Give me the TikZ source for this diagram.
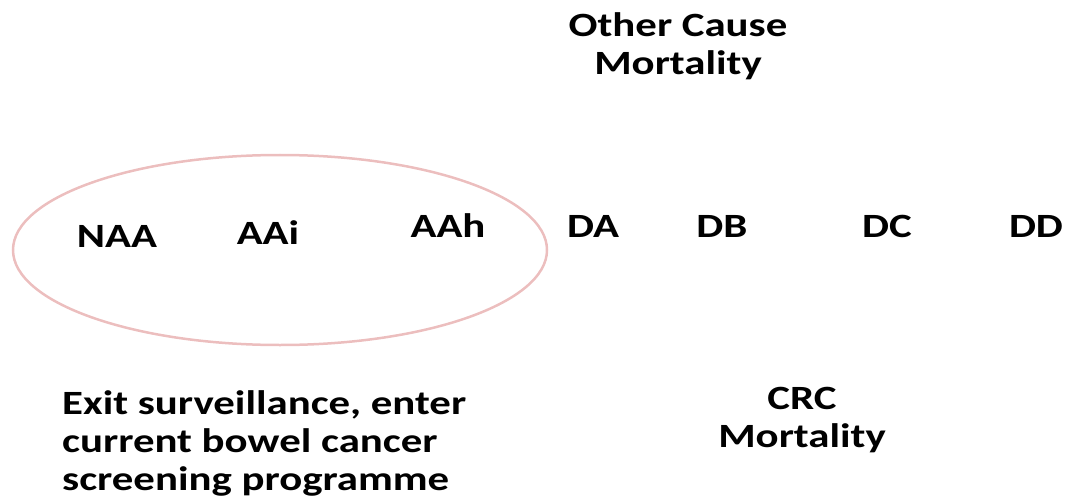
\documentclass[tikz,border=0pt]{standalone}
\usepackage{fontspec}
\usepackage{graphicx}
\setmainfont{Carlito}
\definecolor{ellred}{RGB}{236,190,190}
\newcommand{\sx}[1]{\scalebox{1.26}[1]{#1}}
\begin{document}
\begin{tikzpicture}[x=1pt,y=-1pt,
  lbl/.style={font=\fontsize{34}{38}\selectfont\bfseries, inner sep=0pt, align=center},
  lbll/.style={lbl, align=left, anchor=west}]
\useasboundingbox (0,0) rectangle (1071,500);
\draw[ellred, line width=2.5pt] (280,250) ellipse [x radius=267, y radius=95];
\node[lbl] (oth) at (678,46) {\sx{Other Cause}\\\sx{Mortality}};
\node[lbl] (naa) at (117,236) {\sx{NAA}};
\node[lbl] (aai) at (268,233) {\sx{AAi}};
\node[lbl] (aah) at (448,226) {\sx{AAh}};
\node[lbl] (da) at (593,226) {\sx{DA}};
\node[lbl] (db) at (722,226) {\sx{DB}};
\node[lbl] (dc) at (887,226) {\sx{DC}};
\node[lbl] (dd) at (1036,226) {\sx{DD}};
\node[lbll] (exit) at (62,443) {\sx{Exit surveillance, enter}\\\sx{current bowel cancer}\\\sx{screening programme}};
\node[lbl] (crc) at (802,420) {\sx{CRC}\\\sx{Mortality}};
\end{tikzpicture}
\end{document}
